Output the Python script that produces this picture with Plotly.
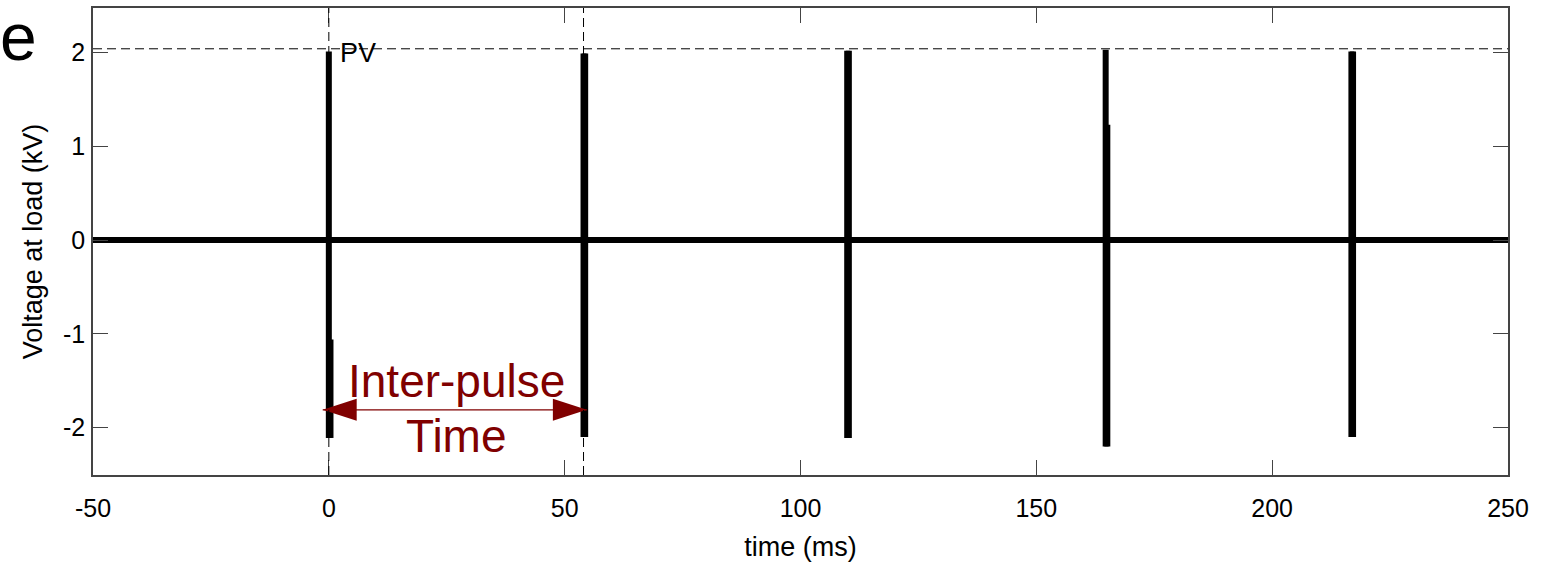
import plotly.graph_objects as go

# ---- data ----
time_range = [-50, 250]
voltage_range = [-2.505, 2.475]
x_ticks = [-50, 0, 50, 100, 150, 200, 250]
x_tick_labels = ["-50", "0", "50", "100", "150", "200", "250"]
y_ticks = [-2, -1, 0, 1, 2]
y_tick_labels = ["-2", "-1", "0", "1", "2"]

baseline_t = [-50, 250]
baseline_v = [0.0, 0.0]

pulse_times = [0.0, 54.0, 109.9, 164.7, 216.8]
pulse_max = [2.01, 1.99, 2.02, 2.03, 2.01]
pulse_min = [-2.11, -2.10, -2.11, -2.20, -2.10]
tail_top = [-1.06, 1.99, 2.02, 1.23, 2.01]

marker_times = [0.0, 54.0]
pv_level = 2.04
arrow_start = -1.3
arrow_end = 54.7
arrow_level = -1.81

DARK_RED = "#800000"
FONT = "Liberation Sans, Arial, sans-serif"

fig = go.Figure()

# baseline
fig.add_trace(go.Scatter(x=baseline_t, y=baseline_v, mode="lines",
                         line=dict(color="black", width=6), hoverinfo="skip"))

# pulses
px, py, tx, ty = [], [], [], []
for t, hi, lo, tt in zip(pulse_times, pulse_max, pulse_min, tail_top):
    px += [t, t, None]
    py += [hi, lo, None]
    tx += [t + 0.35, t + 0.35, None]
    ty += [tt, lo, None]
fig.add_trace(go.Scatter(x=px, y=py, mode="lines",
                         line=dict(color="black", width=6), hoverinfo="skip"))
fig.add_trace(go.Scatter(x=tx, y=ty, mode="lines",
                         line=dict(color="black", width=6), hoverinfo="skip"))

# double-headed arrow
head_len = 7.2
head_half = 0.117
fig.add_trace(go.Scatter(x=[arrow_start, arrow_end], y=[arrow_level, arrow_level],
                         mode="lines", line=dict(color=DARK_RED, width=1.2),
                         hoverinfo="skip"))
for tip, d in [(arrow_start, 1), (arrow_end, -1)]:
    fig.add_trace(go.Scatter(
        x=[tip, tip + d * head_len, tip + d * head_len, tip],
        y=[arrow_level, arrow_level + head_half, arrow_level - head_half, arrow_level],
        mode="lines", fill="toself", fillcolor=DARK_RED,
        line=dict(color=DARK_RED, width=0), hoverinfo="skip"))

# dashed reference lines
for mt in marker_times:
    fig.add_shape(type="line", xref="x", yref="paper", x0=mt, x1=mt, y0=0, y1=1,
                  line=dict(color="black", width=1, dash="9px,5px"))
fig.add_shape(type="line", xref="paper", yref="y", x0=0, x1=1, y0=pv_level, y1=pv_level,
              line=dict(color="black", width=1, dash="9px,5px"))

mid = (marker_times[0] + marker_times[1]) / 2
fig.add_annotation(x=2.0, y=2.0, text="PV", showarrow=False, xanchor="left",
                   yanchor="middle", font=dict(family=FONT, size=27, color="black"))
fig.add_annotation(x=mid, y=-1.50, text="Inter-pulse", showarrow=False,
                   xanchor="center", yanchor="middle",
                   font=dict(family=FONT, size=46, color=DARK_RED))
fig.add_annotation(x=mid, y=-2.09, text="Time", showarrow=False,
                   xanchor="center", yanchor="middle",
                   font=dict(family=FONT, size=46, color=DARK_RED))

axis_common = dict(showgrid=False, zeroline=False, showline=True, mirror="ticks",
                   linecolor="#444444", linewidth=1.5, ticks="inside", ticklen=15,
                   tickwidth=1.2, tickcolor="#444444", automargin=False,
                   tickfont=dict(family=FONT, size=25, color="black"))

fig.update_layout(
    width=1550, height=562,
    margin=dict(l=93, r=42, t=8, b=87, autoexpand=False),
    paper_bgcolor="white", plot_bgcolor="white",
    showlegend=False, hovermode=False,
    title=dict(text="e", x=0.0, xref="container", xanchor="left",
               y=1 - 37 / 562, yref="container", yanchor="middle",
               font=dict(family=FONT, size=66, color="black")),
    xaxis=dict(range=time_range, tickvals=x_ticks, ticktext=x_tick_labels,
               ticklabelstandoff=10,
               title=dict(text="time (ms)", standoff=16,
                          font=dict(family=FONT, size=27, color="black")),
               **axis_common),
    yaxis=dict(range=voltage_range, tickvals=y_ticks, ticktext=y_tick_labels,
               ticklabelstandoff=1,
               title=dict(text="Voltage at load (kV)", standoff=13,
                          font=dict(family=FONT, size=27, color="black")),
               **axis_common),
)

fig.write_html("out.html")
